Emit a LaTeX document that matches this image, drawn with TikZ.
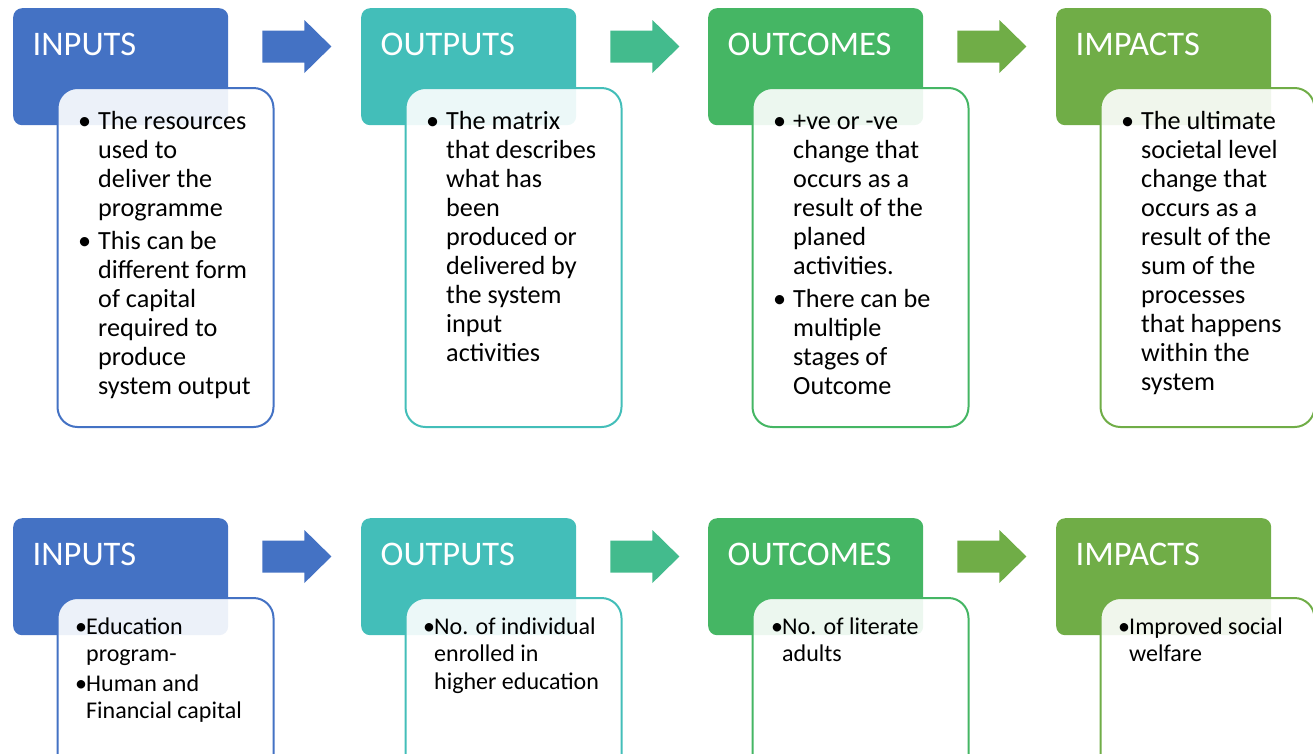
\documentclass[tikz,border=0pt]{standalone}
\usepackage{fontspec}
\setmainfont{Carlito}
\usetikzlibrary{calc}

\definecolor{cIn}{HTML}{4472C4}
\definecolor{cOut}{HTML}{43BEB9}
\definecolor{cOc}{HTML}{45B664}
\definecolor{cIm}{HTML}{70AD47}
\definecolor{cMid}{HTML}{43BB8D}

\tikzset{
  headbox/.style={rectangle, rounded corners=9pt, inner sep=0pt, draw=none,
    minimum width=215pt, minimum height=117pt, anchor=north west},
  headlabel/.style={anchor=base west, inner sep=0pt, text=white,
    font=\fontsize{34.5}{40}\selectfont},
  bodybox/.style={rectangle, rounded corners=20pt, inner sep=0pt, line width=2pt,
    fill=white, fill opacity=0.9, minimum height=339pt, anchor=north west},
  bodytext/.style={anchor=base west, inner sep=0pt, text=black},
}

\newlength\bulw
\newcommand\bul[1]{\noindent\llap{\makebox[\bulw][c]{\textbullet}}#1\par}
\newcommand\toptext[1]{\parbox[t]{200pt}{\raggedright\fontsize{26.2}{29}\selectfont\setlength{\bulw}{27pt}#1}}
\newcommand\bottext[1]{\parbox[t]{200pt}{\raggedright\fontsize{24}{27.5}\selectfont\setlength{\bulw}{10pt}#1}}

% one stage: coloured header tab with a bordered text panel laid over it
% #1 name, #2 x, #3 y, #4 colour, #5 title, #6 panel width
\newcommand\stage[6]{%
  \node[headbox, fill=#4] (#1h) at (#2,#3) {};
  \node[headlabel] (#1t) at ($(#1h.north west)+(19.5,47)$) {#5};
  \node[bodybox, draw=#4, minimum width=#6pt] (#1b) at ($(#1h.north west)+(43.5,79)$) {};
}

% block arrow placed to the right of a header tab
% #1 name, #2 header node, #3 colour
\newcommand\flowarrow[3]{%
  \coordinate (#1) at ($(#2.north east)+(34,38.5)$);
  \fill[#3] (#1) ++(0,-16) -- ++(42,0) -- ++(0,-10.5) -- ++(27,26.5)
    -- ++(-27,26.5) -- ++(0,-10.5) -- ++(-42,0) -- cycle;
}

\begin{document}
\begin{tikzpicture}[x=1pt,y=-1pt]
\useasboundingbox (0,0) rectangle (1313,753);
\clip (0,0) rectangle (1313,753);

% ---- definitions row ----
\stage{inA}{13}{8}{cIn}{INPUTS}{216}
\stage{outA}{361}{8}{cOut}{OUTPUTS}{216}
\stage{ocA}{708}{8}{cOc}{OUTCOMES}{216}
\stage{imA}{1056}{8}{cIm}{IMPACTS}{214}

\flowarrow{arA1}{inAh}{cIn}
\flowarrow{arA2}{outAh}{cMid}
\flowarrow{arA3}{ocAh}{cIm}

\node[bodytext] (inAx) at ($(inAb.north west)+(41.5,42)$) {\toptext{%
  \bul{The resources\\used to\\deliver the\\programme}\vspace{4.5pt}%
  \bul{This can be\\different form\\of capital\\required to\\produce\\system output}}};
\node[bodytext] (outAx) at ($(outAb.north west)+(41.5,42)$) {\toptext{%
  \bul{The matrix\\that describes\\what has\\been\\produced or\\delivered by\\the system\\input\\activities}}};
\node[bodytext] (ocAx) at ($(ocAb.north west)+(41.5,42)$) {\toptext{%
  \bul{+ve or -ve\\change that\\occurs as a\\result of the\\planed\\activities.}\vspace{4pt}%
  \bul{There can be\\multiple\\stages of\\Outcome}}};
\node[bodytext] (imAx) at ($(imAb.north west)+(41.5,42)$) {\toptext{%
  \bul{The ultimate\\societal level\\change that\\occurs as a\\result of the\\sum of the\\processes\\that happens\\within the\\system}}};

% ---- example row ----
\stage{inB}{13}{518}{cIn}{INPUTS}{216}
\stage{outB}{361}{518}{cOut}{OUTPUTS}{216}
\stage{ocB}{708}{518}{cOc}{OUTCOMES}{216}
\stage{imB}{1056}{518}{cIm}{IMPACTS}{214}

\flowarrow{arB1}{inBh}{cIn}
\flowarrow{arB2}{outBh}{cMid}
\flowarrow{arB3}{ocBh}{cIm}

\node[bodytext] (inBx) at ($(inBb.north west)+(29.5,37)$) {\bottext{%
  \bul{Education\\program-}\vspace{2pt}%
  \bul{Human and\\Financial capital}}};
\node[bodytext] (outBx) at ($(outBb.north west)+(29.5,37)$) {\bottext{%
  \bul{No. of individual\\enrolled in\\higher education}}};
\node[bodytext] (ocBx) at ($(ocBb.north west)+(30.5,37)$) {\bottext{%
  \bul{No. of literate\\adults}}};
\node[bodytext] (imBx) at ($(imBb.north west)+(29.5,37)$) {\bottext{%
  \bul{Improved social\\welfare}}};
\end{tikzpicture}
\end{document}
